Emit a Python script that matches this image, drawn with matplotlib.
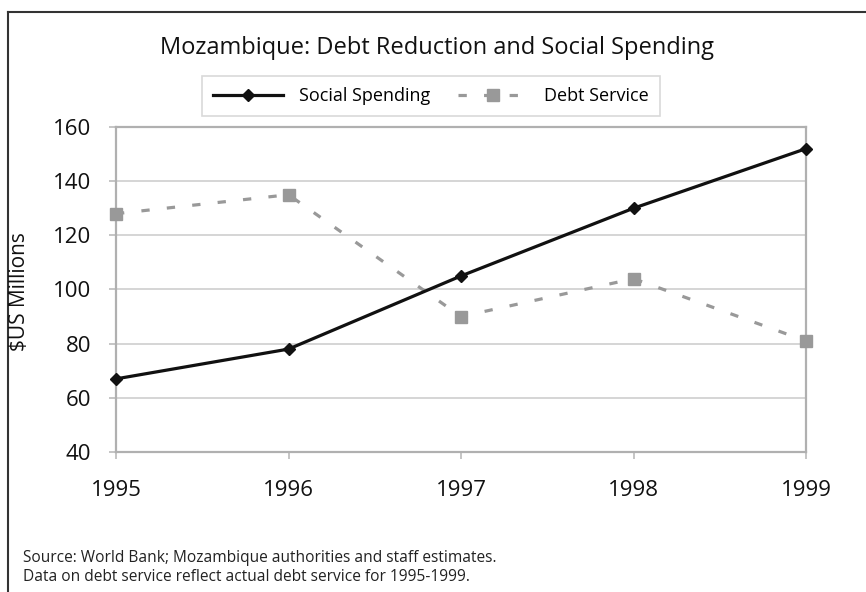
import matplotlib
matplotlib.use("Agg")
import matplotlib.pyplot as plt
from matplotlib.lines import Line2D

years = [1995, 1996, 1997, 1998, 1999]
social_spending = [67, 78, 105, 130, 152]
debt_service = [128, 135, 90, 104, 81]
y_ticks = [40, 60, 80, 100, 120, 140, 160]

plt.rcParams['font.family'] = ['Open Sans', 'DejaVu Sans']

W, H = 866, 592
fig = plt.figure(figsize=(W / 100, H / 100), dpi=100)

def fx(px):
    return px / W

def fy(py):
    return 1 - py / H

# outer frame (left and top edges)
fig.add_artist(Line2D([fx(8), fx(8)], [fy(12), 0], color='#333333', lw=1.5))
fig.add_artist(Line2D([fx(8), 1], [fy(12), fy(12)], color='#333333', lw=1.5))

ax = fig.add_axes([fx(116), fy(452), fx(806) - fx(116), fy(127) - fy(452)])
ax.set_xlim(1995, 1999)
ax.set_ylim(40, 160)
ax.set_yticks(y_ticks)
ax.set_xticks(years)
ax.grid(axis='y', color='#d2d2d2', lw=1.3)
ax.set_axisbelow(True)
for s in ax.spines.values():
    s.set_color('#b0b0b0')
    s.set_linewidth(1.6)
ax.tick_params(axis='both', colors='#c0c0c0', labelcolor='#111111', labelsize=16,
               length=5, width=1.3)
ax.tick_params(axis='y', pad=13)
ax.tick_params(axis='x', pad=15)

ax.plot(years, debt_service, color='#999999', lw=2.3, ls=(0, (2.6, 5.4)),
        marker='s', ms=8.5, mfc='#999999', mec='#999999', clip_on=False,
        label='Debt Service', zorder=3)
ax.plot(years, social_spending, color='#111111', lw=2.3, marker='D', ms=6.5,
        mfc='#111111', mec='#111111', clip_on=False,
        label='Social Spending', zorder=4)

fig.text(fx(20), fy(292), '$US Millions', rotation=90, ha='center', va='center',
         fontsize=15, color='#111111')

fig.text(fx(437), fy(54), 'Mozambique: Debt Reduction and Social Spending',
         ha='center', va='baseline', fontsize=17, color='#111111')

handles, labels = ax.get_legend_handles_labels()
leg = fig.legend(handles[::-1], labels[::-1], loc='center',
                 bbox_to_anchor=(fx(431), fy(96)), ncol=2, frameon=True,
                 fontsize=13, handlelength=3.9, handletextpad=0.9,
                 columnspacing=1.5, fancybox=False, borderpad=0.6)
leg.get_frame().set_edgecolor('#d0d0d0')
leg.get_frame().set_linewidth(1.2)

fig.text(fx(23), fy(562), 'Source: World Bank; Mozambique authorities and staff estimates.',
         ha='left', va='baseline', fontsize=11.2, color='#222222')
fig.text(fx(23), fy(581), 'Data on debt service reflect actual debt service for 1995-1999.',
         ha='left', va='baseline', fontsize=11.2, color='#222222')

fig.savefig('out.png', dpi=100, facecolor='white')
